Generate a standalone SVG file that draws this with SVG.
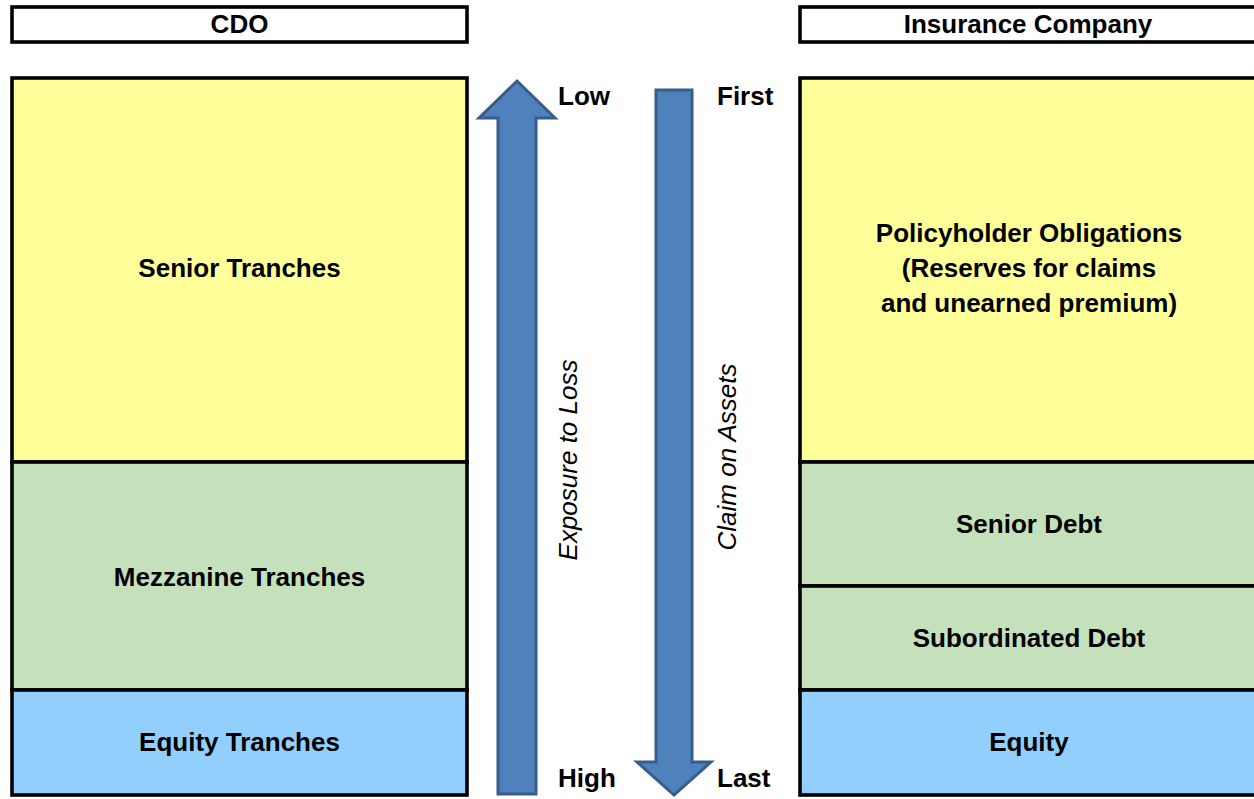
<svg xmlns="http://www.w3.org/2000/svg" width="1254" height="799" viewBox="0 0 1254 799">
<style>
.box{stroke:#000;stroke-width:3.6}
.hdr{fill:#fff}
.y{fill:#FFFF99}
.g{fill:#C5E1BB}
.b{fill:#92CFFD}
.t{font-family:"Liberation Sans",Arial,sans-serif;font-size:26px;font-weight:bold;fill:#000;text-anchor:middle}
.tl{font-family:"Liberation Sans",Arial,sans-serif;font-size:26px;font-weight:bold;fill:#000}
.ti{font-family:"Liberation Sans",Arial,sans-serif;font-size:26px;font-style:italic;fill:#000;text-anchor:middle}
.arr{fill:#4F81BD;stroke:#385D8A;stroke-width:3}
</style>
<rect width="1254" height="799" fill="#fff"/>
<g id="cdo-header">
<rect class="box hdr" x="12" y="7" width="455" height="35"/>
<text class="t" x="239.5" y="33">CDO</text>
</g>
<g id="senior-tranches">
<rect class="box y" x="12" y="78" width="455" height="384"/>
<text class="t" x="239.5" y="277">Senior Tranches</text>
</g>
<g id="mezzanine-tranches">
<rect class="box g" x="12" y="462" width="455" height="228"/>
<text class="t" x="239.5" y="586">Mezzanine Tranches</text>
</g>
<g id="equity-tranches">
<rect class="box b" x="12" y="690" width="455" height="105"/>
<text class="t" x="239.5" y="751">Equity Tranches</text>
</g>
<g id="ins-header">
<rect class="box hdr" x="800" y="7" width="458" height="35"/>
<text class="t" x="1028" y="33">Insurance Company</text>
</g>
<g id="policyholder">
<rect class="box y" x="800" y="78" width="458" height="384"/>
<text class="t" x="1029" y="242">Policyholder Obligations</text>
<text class="t" x="1029" y="277">(Reserves for claims</text>
<text class="t" x="1029" y="312">and unearned premium)</text>
</g>
<g id="senior-debt">
<rect class="box g" x="800" y="462" width="458" height="124"/>
<text class="t" x="1029" y="533">Senior Debt</text>
</g>
<g id="subordinated-debt">
<rect class="box g" x="800" y="586" width="458" height="104"/>
<text class="t" x="1029" y="647">Subordinated Debt</text>
</g>
<g id="equity">
<rect class="box b" x="800" y="690" width="458" height="105"/>
<text class="t" x="1029" y="751">Equity</text>
</g>
<g id="connectors">
<polygon class="arr" points="517,81 555,118 536,118 536,794 498,794 498,118 479,118"/>
<polygon class="arr" points="656,90 692,90 692,762 711,762 674,795 637,762 656,762"/>
</g>
<g id="labels">
<text class="tl" x="558" y="105">Low</text>
<text class="tl" x="717" y="105">First</text>
<text class="tl" x="558" y="787">High</text>
<text class="tl" x="717" y="787">Last</text>
<text class="ti" transform="translate(577,460) rotate(-90)">Exposure to Loss</text>
<text class="ti" transform="translate(736,457) rotate(-90)">Claim on Assets</text>
</g>
</svg>
